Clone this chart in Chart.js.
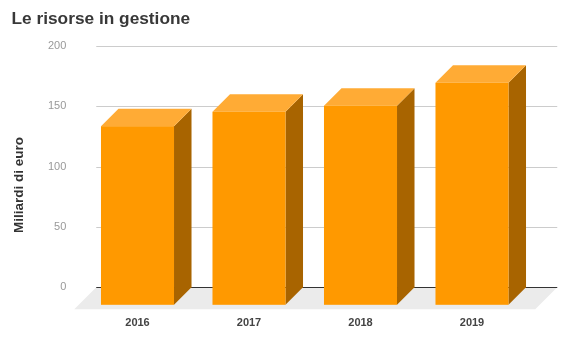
<!DOCTYPE html>
<html>
<head>
<meta charset="utf-8">
<script src="https://cdn.jsdelivr.net/npm/chart.js@4/dist/chart.umd.min.js"></script>
<style>
  html, body { margin: 0; padding: 0; background: #ffffff; }
  #wrap { width: 571px; height: 352px; position: relative; }
</style>
</head>
<body>
<div id="wrap"><canvas id="c" width="571" height="352"></canvas></div>
<script>
// ---- data ----
const categories = ['2016', '2017', '2018', '2019'];
const risorse = [148, 160, 165, 184];
const yTicks = [0, 50, 100, 150, 200];
const chartTitle = 'Le risorse in gestione';
const yAxisTitle = 'Miliardi di euro';

// ---- style ----
const DEPTH = 17.5;
const FLOOR_DEPTH = 22;
const FRONT = '#ff9900';
const TOP = '#ffab35';
const SIDE = '#a86400';

const threeD = {
  id: 'threeD',
  beforeDatasetsDraw(chart) {
    const {ctx, chartArea: a, scales: {y}} = chart;
    const z = y.getPixelForValue(0);
    const gl = a.left - 3, gr = a.right + 12;
    ctx.save();
    // floor
    ctx.fillStyle = '#ebebeb';
    ctx.beginPath();
    ctx.moveTo(gl, z);
    ctx.lineTo(gr, z);
    ctx.lineTo(gr - FLOOR_DEPTH, z + FLOOR_DEPTH);
    ctx.lineTo(gl - FLOOR_DEPTH, z + FLOOR_DEPTH);
    ctx.closePath();
    ctx.fill();
    // gridlines
    ctx.lineWidth = 1;
    yTicks.forEach(v => {
      const py = Math.round(y.getPixelForValue(v)) + 0.5;
      ctx.strokeStyle = v === 0 ? '#333333' : '#cccccc';
      ctx.beginPath();
      ctx.moveTo(gl, py);
      ctx.lineTo(gr, py);
      ctx.stroke();
    });
    // y axis title
    ctx.fillStyle = '#333333';
    ctx.font = 'bold 13.5px "Liberation Sans", Arial, sans-serif';
    ctx.textAlign = 'center';
    ctx.textBaseline = 'middle';
    ctx.translate(19, 185);
    ctx.rotate(-Math.PI / 2);
    ctx.fillText(yAxisTitle, 0, 0);
    ctx.restore();
  },
  afterDatasetsDraw(chart) {
    const {ctx} = chart;
    const meta = chart.getDatasetMeta(0);
    ctx.save();
    meta.data.forEach(el => {
      const {x, y, base, width} = el.getProps(['x', 'y', 'base', 'width'], true);
      const xl = x - width / 2, xr = x + width / 2, d = DEPTH;
      // side
      ctx.fillStyle = SIDE;
      ctx.beginPath();
      ctx.moveTo(xr - d, y + d);
      ctx.lineTo(xr, y);
      ctx.lineTo(xr, base);
      ctx.lineTo(xr - d, base + d);
      ctx.closePath();
      ctx.fill();
      // top
      ctx.fillStyle = TOP;
      ctx.beginPath();
      ctx.moveTo(xl - d, y + d);
      ctx.lineTo(xr - d, y + d);
      ctx.lineTo(xr, y);
      ctx.lineTo(xl, y);
      ctx.closePath();
      ctx.fill();
      // front
      ctx.fillStyle = FRONT;
      ctx.fillRect(xl - d, y + d, width, base - y);
    });
    ctx.restore();
  }
};

new Chart(document.getElementById('c'), {
  type: 'bar',
  data: {
    labels: categories,
    datasets: [{
      data: risorse,
      backgroundColor: 'rgba(0,0,0,0)',
      borderWidth: 0,
      barPercentage: 0.655,
      categoryPercentage: 1
    }]
  },
  options: {
    responsive: false,
    animation: false,
    events: [],
    layout: { padding: { left: 11.5, right: 25.75, top: 0, bottom: 0 } },
    plugins: {
      legend: { display: false },
      tooltip: { enabled: false },
      title: {
        display: true,
        text: chartTitle,
        align: 'start',
        color: '#383838',
        font: { family: '"Liberation Sans", Arial, sans-serif', size: 17.3, weight: 'bold', lineHeight: 1.2 },
        padding: { top: 8.5, bottom: 16.7 }
      }
    },
    scales: {
      x: {
        grid: { display: false, drawTicks: false },
        border: { display: false },
        ticks: {
          labelOffset: -DEPTH,
          padding: 29,
          color: '#444444',
          font: { family: '"Liberation Sans", Arial, sans-serif', size: 11, weight: 'bold' }
        },
        afterFit(s) { s.height = 64.7; }
      },
      y: {
        min: 0,
        max: 200,
        grid: { display: false, drawTicks: false },
        border: { display: false },
        ticks: {
          stepSize: 50,
          padding: 33,
          color: '#999999',
          font: { family: '"Liberation Sans", Arial, sans-serif', size: 11 }
        },
        afterFit(s) { s.width = 87.75; }
      }
    }
  },
  plugins: [threeD]
});
</script>
</body>
</html>
